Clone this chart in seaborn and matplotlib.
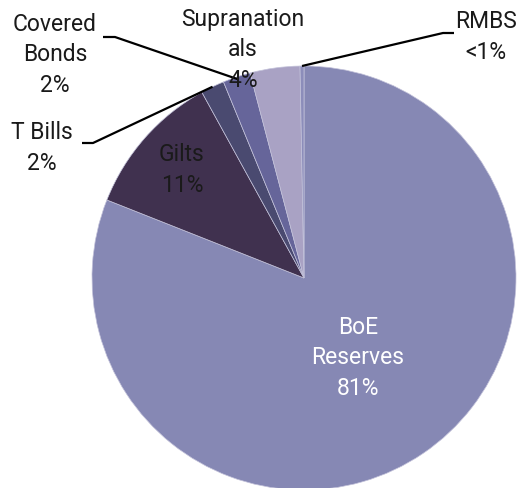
import numpy as np
import matplotlib
matplotlib.use("Agg")
import matplotlib.pyplot as plt
import seaborn as sns

# Portfolio composition (percent of total), clockwise from 12 o'clock
categories = ["BoE\nReserves", "Gilts", "T Bills", "Covered\nBonds", "Supranation\nals", "RMBS"]
shares = [81.0, 11.0, 1.8, 2.1, 3.8, 0.3]
share_labels = ["81%", "11%", "2%", "2%", "4%", "<1%"]

sns.set_theme(style="white")
plt.rcParams["font.family"] = ["Roboto", "DejaVu Sans"]

palette = sns.color_palette(["#8688B4", "#40314F", "#4A4A70", "#66659A", "#A9A2C4", "#8C8DBA"])

W, H, DPI = 517, 488, 100
fig = plt.figure(figsize=(W / DPI, H / DPI), dpi=DPI)
ax = fig.add_axes([0, 0, 1, 1])

# pie centre / radius in pixels, used only to frame the axes
cx, cy, R = 304, 278, 212

wedges, _ = ax.pie(
    shares,
    colors=palette,
    startangle=90,
    counterclock=False,
    radius=1.0,
    center=(0, 0),
    wedgeprops=dict(edgecolor="#C3C2DA", linewidth=0.5),
    frame=False,
)
ax.set_xlim(-cx / R, (W - cx) / R)
ax.set_ylim((cy - H) / R, cy / R)
ax.set_aspect("auto")
ax.set_axis_off()


def px(x, y):
    return ((x - cx) / R, (cy - y) / R)


def edge_point(w, r=1.0):
    mid = np.deg2rad((w.theta1 + w.theta2) / 2)
    return r * np.cos(mid), r * np.sin(mid)


fs = 16.5
txt = dict(ha="center", va="center", fontsize=fs, linespacing=1.4, fontweight="normal")
dark = "#1A1A1A"

# inside labels
ax.text(*px(358, 358), f"{categories[0]}\n{share_labels[0]}", color="white", **txt)
ax.text(*px(182, 170), f"{categories[1]}\n{share_labels[1]}", color=dark, **txt)

# outside labels with leader lines
ax.text(*px(42, 148), f"{categories[2]}\n{share_labels[2]}", color=dark, **txt)
ax.text(*px(55, 55), f"{categories[3]}\n{share_labels[3]}", color=dark, **txt)
ax.text(*px(243, 50), f"{categories[4]}\n{share_labels[4]}", color=dark, **txt)
ax.text(*px(486, 37), f"{categories[5]}\n{share_labels[5]}", color=dark, **txt)

line = dict(color="black", lw=1.6, solid_capstyle="butt")
# T Bills
ex, ey = edge_point(wedges[2])
a, b = px(82, 143), px(93, 143)
ax.plot([a[0], b[0], ex], [a[1], b[1], ey], **line)
# Covered Bonds
ex, ey = edge_point(wedges[3], 0.99)
a, b = px(103, 37), px(115, 37)
ax.plot([a[0], b[0], ex], [a[1], b[1], ey], **line)
# RMBS
ex, ey = edge_point(wedges[5])
a, b = px(454, 33), px(443, 33)
ax.plot([a[0], b[0], ex], [a[1], b[1], ey], **line)

fig.savefig("out.png", dpi=DPI, facecolor="white")
